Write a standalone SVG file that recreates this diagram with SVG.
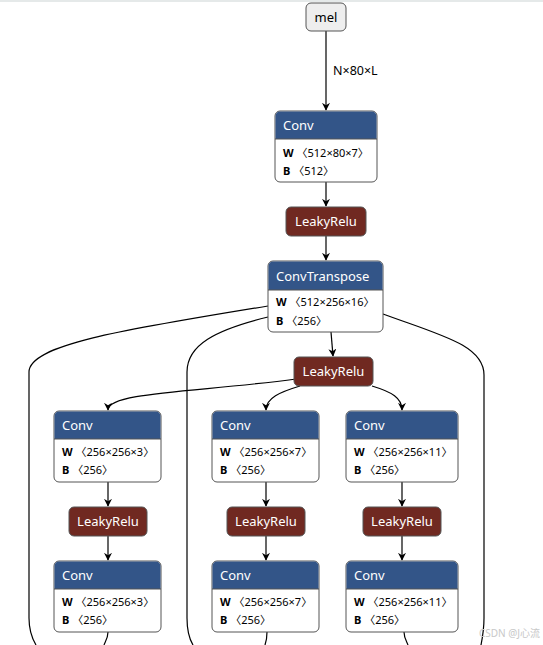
<svg xmlns="http://www.w3.org/2000/svg" width="543" height="645" viewBox="0 0 543 645">
<defs>
<marker id="ah" viewBox="0 0 10 10" refX="9" refY="5" markerWidth="8" markerHeight="8" markerUnits="userSpaceOnUse" orient="auto">
<path d="M0,0 L10,5 L0,10 L3,5 Z" fill="#000"/>
</marker>
<style>
text{font-family:"Noto Sans","Noto Sans CJK SC","Open Sans",sans-serif;}
.edge{fill:none;stroke:#000;stroke-width:1.2;}
.arr{marker-end:url(#ah);}
.box{fill:#fff;stroke:#555;stroke-width:1;}
.hdr{fill:#335588;}
.act{fill:#702921;stroke:#555;stroke-width:1;}
.inp{fill:#eee;stroke:#555;stroke-width:1;}
.t{font-size:13px;fill:#fff;}
.a{font-size:11px;fill:#000;}
.b{font-weight:bold;}
.lbl{font-size:12.5px;fill:#000;}
</style>
</defs>
<rect width="543" height="645" fill="#fff"/>
<line x1="0" y1="1" x2="543" y2="1" stroke="#dde2e2" stroke-width="1.5"/>
<g id="edges">
<path class="edge arr" d="M326,31 L326,110"/>
<text class="lbl" x="333" y="75">N×80×L</text>
<path class="edge arr" d="M326,182 L326,206"/>
<path class="edge arr" d="M326,236 L326,260"/>
<path class="edge arr" d="M331,332 L333,356"/>
<path class="edge arr" d="M296,379 C200,392 108,392 108,410"/>
<path class="edge arr" d="M300,386 C280,392 266,398 266,410"/>
<path class="edge arr" d="M372,386 C392,392 402,398 402,410"/>
<path class="edge" d="M268,306 C120,330 29,345 29,372 L29,618 C29,630 33,640 36,645"/>
<path class="edge" d="M268,317 C215,330 187,345 187,372 L187,618 C187,630 190,640 193,645"/>
<path class="edge" d="M383,314 C440,335 484,345 484,375 L484,618 C484,630 482,640 481,645"/>
<path class="edge arr" d="M108,482 L108,506"/>
<path class="edge arr" d="M108,536 L108,560"/>
<path class="edge arr" d="M266,482 L266,506"/>
<path class="edge arr" d="M266,536 L266,560"/>
<path class="edge arr" d="M402,482 L402,506"/>
<path class="edge arr" d="M402,536 L402,560"/>
<path class="edge" d="M108,632 C108,638 105,642 104,645"/>
<path class="edge" d="M267,632 C267,638 266,642 265,645"/>
<path class="edge" d="M404,632 C404,638 407,642 408,645"/>
</g>
<g id="mel">
<rect class="inp" x="306" y="3" width="40" height="28" rx="5"/>
<text x="326" y="22" font-size="13" text-anchor="middle" fill="#000">mel</text>
</g>
<g id="conv1">
<rect class="box" x="275" y="111" width="102" height="71" rx="5"/>
<path class="hdr" d="M280,111.5 H372 A4.5,4.5 0 0 1 376.5,116 V139 H275.5 V116 A4.5,4.5 0 0 1 280,111.5 Z"/>
<line x1="275" y1="139" x2="377" y2="139" stroke="#555"/>
<text class="t" x="283" y="130">Conv</text>
<text class="a" x="283" y="157"><tspan class="b">W</tspan> 〈512×80×7〉</text>
<text class="a" x="283" y="175"><tspan class="b">B</tspan> 〈512〉</text>
</g>
<g id="relu1">
<rect class="act" x="286" y="207" width="80" height="29" rx="5"/>
<text class="t" x="326" y="226" text-anchor="middle">LeakyRelu</text>
</g>
<g id="convT">
<rect class="box" x="268" y="261" width="115" height="71" rx="5"/>
<path class="hdr" d="M273,261.5 H378 A4.5,4.5 0 0 1 382.5,266 V290 H268.5 V266 A4.5,4.5 0 0 1 273,261.5 Z"/>
<line x1="268" y1="290" x2="383" y2="290" stroke="#555"/>
<text class="t" x="276" y="281">ConvTranspose</text>
<text class="a" x="276" y="306"><tspan class="b">W</tspan> 〈512×256×16〉</text>
<text class="a" x="276" y="325"><tspan class="b">B</tspan> 〈256〉</text>
</g>
<g id="relu2">
<rect class="act" x="294" y="357" width="79" height="29" rx="5"/>
<text class="t" x="333.5" y="376" text-anchor="middle">LeakyRelu</text>
</g>
<g id="convA1">
<rect class="box" x="54" y="411" width="107" height="71" rx="5"/>
<path class="hdr" d="M59,411.5 H156 A4.5,4.5 0 0 1 160.5,416 V439 H54.5 V416 A4.5,4.5 0 0 1 59,411.5 Z"/>
<line x1="54" y1="439" x2="161" y2="439" stroke="#555"/>
<text class="t" x="62" y="430">Conv</text>
<text class="a" x="62" y="456"><tspan class="b">W</tspan> 〈256×256×3〉</text>
<text class="a" x="62" y="474"><tspan class="b">B</tspan> 〈256〉</text>
</g>
<g id="convB1">
<rect class="box" x="212" y="411" width="107" height="71" rx="5"/>
<path class="hdr" d="M217,411.5 H314 A4.5,4.5 0 0 1 318.5,416 V439 H212.5 V416 A4.5,4.5 0 0 1 217,411.5 Z"/>
<line x1="212" y1="439" x2="319" y2="439" stroke="#555"/>
<text class="t" x="220" y="430">Conv</text>
<text class="a" x="220" y="456"><tspan class="b">W</tspan> 〈256×256×7〉</text>
<text class="a" x="220" y="474"><tspan class="b">B</tspan> 〈256〉</text>
</g>
<g id="convC1">
<rect class="box" x="346" y="411" width="112" height="71" rx="5"/>
<path class="hdr" d="M351,411.5 H453 A4.5,4.5 0 0 1 457.5,416 V439 H346.5 V416 A4.5,4.5 0 0 1 351,411.5 Z"/>
<line x1="346" y1="439" x2="458" y2="439" stroke="#555"/>
<text class="t" x="354" y="430">Conv</text>
<text class="a" x="354" y="456"><tspan class="b">W</tspan> 〈256×256×11〉</text>
<text class="a" x="354" y="474"><tspan class="b">B</tspan> 〈256〉</text>
</g>
<g id="reluA">
<rect class="act" x="69" y="507" width="78" height="29" rx="5"/>
<text class="t" x="108" y="526" text-anchor="middle">LeakyRelu</text>
</g>
<g id="reluB">
<rect class="act" x="227" y="507" width="78" height="29" rx="5"/>
<text class="t" x="266" y="526" text-anchor="middle">LeakyRelu</text>
</g>
<g id="reluC">
<rect class="act" x="363" y="507" width="78" height="29" rx="5"/>
<text class="t" x="402" y="526" text-anchor="middle">LeakyRelu</text>
</g>
<g id="convA2">
<rect class="box" x="54" y="561" width="107" height="71" rx="5"/>
<path class="hdr" d="M59,561.5 H156 A4.5,4.5 0 0 1 160.5,566 V589 H54.5 V566 A4.5,4.5 0 0 1 59,561.5 Z"/>
<line x1="54" y1="589" x2="161" y2="589" stroke="#555"/>
<text class="t" x="62" y="580">Conv</text>
<text class="a" x="62" y="606"><tspan class="b">W</tspan> 〈256×256×3〉</text>
<text class="a" x="62" y="624"><tspan class="b">B</tspan> 〈256〉</text>
</g>
<g id="convB2">
<rect class="box" x="212" y="561" width="107" height="71" rx="5"/>
<path class="hdr" d="M217,561.5 H314 A4.5,4.5 0 0 1 318.5,566 V589 H212.5 V566 A4.5,4.5 0 0 1 217,561.5 Z"/>
<line x1="212" y1="589" x2="319" y2="589" stroke="#555"/>
<text class="t" x="220" y="580">Conv</text>
<text class="a" x="220" y="606"><tspan class="b">W</tspan> 〈256×256×7〉</text>
<text class="a" x="220" y="624"><tspan class="b">B</tspan> 〈256〉</text>
</g>
<g id="convC2">
<rect class="box" x="346" y="561" width="112" height="71" rx="5"/>
<path class="hdr" d="M351,561.5 H453 A4.5,4.5 0 0 1 457.5,566 V589 H346.5 V566 A4.5,4.5 0 0 1 351,561.5 Z"/>
<line x1="346" y1="589" x2="458" y2="589" stroke="#555"/>
<text class="t" x="354" y="580">Conv</text>
<text class="a" x="354" y="606"><tspan class="b">W</tspan> 〈256×256×11〉</text>
<text class="a" x="354" y="624"><tspan class="b">B</tspan> 〈256〉</text>
</g>
<text x="540" y="637" font-size="10" fill="#c8c8c8" text-anchor="end">CSDN @J心流</text>
</svg>
